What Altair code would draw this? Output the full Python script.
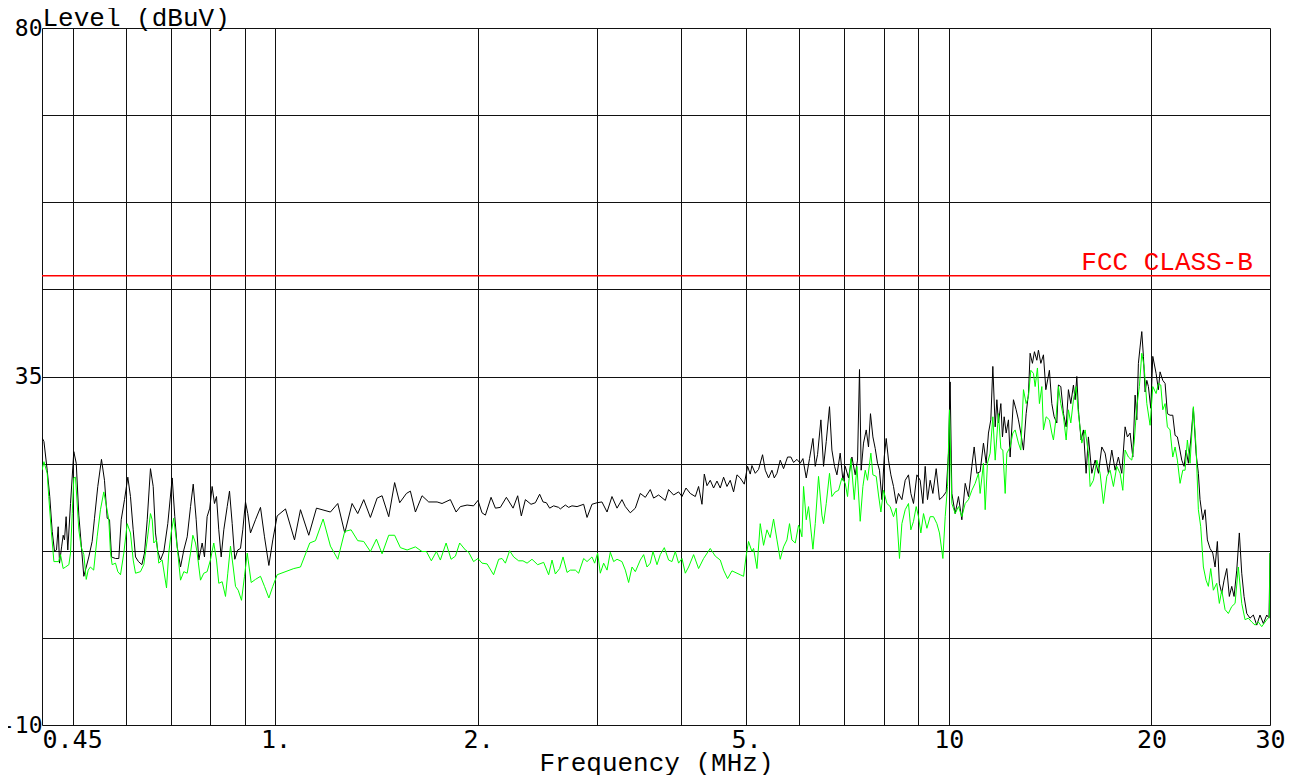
import altair as alt
import pandas as pd

# ---------------- data ----------------
peak_freq = [
    0.45, 0.453, 0.4581, 0.4621, 0.466, 0.4697, 0.4729, 0.4756, 0.4778, 0.4812,
    0.4838, 0.486, 0.4887, 0.4915, 0.4961, 0.5017, 0.5059, 0.5104, 0.5192, 0.5235,
    0.5281, 0.5342, 0.5385, 0.5446, 0.5515, 0.5572, 0.5624, 0.5669, 0.5708, 0.5786,
    0.5852, 0.59, 0.5967, 0.6035, 0.609, 0.6147, 0.6196, 0.6259, 0.6332, 0.6389,
    0.6449, 0.6521, 0.6582, 0.6634, 0.6687, 0.6748, 0.6826, 0.6919, 0.7024, 0.7087,
    0.7145, 0.7227, 0.7309, 0.7394, 0.7479, 0.7548, 0.7625, 0.7693, 0.7782, 0.7844,
    0.7915, 0.7987, 0.8052, 0.8117, 0.8173, 0.8237, 0.8305, 0.838, 0.8478, 0.8545,
    0.8624, 0.8701, 0.879, 0.8872, 0.8942, 0.9025, 0.9096, 0.9181, 0.9339, 0.95,
    0.9631, 0.9776, 0.9909, 1.0058, 1.0348, 1.0672, 1.0892, 1.1205, 1.1505, 1.2067,
    1.2374, 1.2673, 1.2995, 1.3249, 1.3523, 1.3835, 1.4157, 1.4398, 1.473, 1.503,
    1.5293, 1.5649, 1.5862, 1.6138, 1.6508, 1.6888, 1.738, 1.7676, 1.8187, 1.8547,
    1.8819, 1.9257, 1.9688, 1.9988, 2.0265, 2.0501, 2.0901, 2.1214, 2.1577, 2.2026,
    2.2536, 2.2894, 2.3181, 2.3505, 2.3963, 2.4322, 2.468, 2.497, 2.5254, 2.5538,
    2.5892, 2.6337, 2.6488, 2.6949, 2.7254, 2.7566, 2.8048, 2.8689, 2.9023, 2.9517,
    3.0032, 3.0543, 3.1077, 3.1606, 3.2157, 3.2704, 3.3084, 3.365, 3.4235, 3.482,
    3.5425, 3.6031, 3.6444, 3.7071, 3.7932, 3.8361, 3.9023, 3.9695, 4.0157, 4.0713,
    4.1311, 4.2028, 4.2503, 4.2999, 4.3342, 4.3742, 4.4234, 4.4741, 4.5263, 4.5772,
    4.6297, 4.6837, 4.7363, 4.7908, 4.8466, 4.9011, 4.9692, 5.0256, 5.0715, 5.1013,
    5.1596, 5.2179, 5.29, 5.3391, 5.3994, 5.4623, 5.5059, 5.5567, 5.6192, 5.6836,
    5.762, 5.8283, 5.8814, 5.95, 6.0169, 6.073, 6.1422, 6.2114, 6.2842, 6.3342,
    6.3842, 6.4577, 6.5165, 6.5768, 6.6509, 6.7059, 6.7662, 6.8218, 6.8985, 6.9629,
    7.0183, 7.0976, 7.1803, 7.2624, 7.3198, 7.3692, 7.4113, 7.4713, 7.5405, 7.5998,
    7.6509, 7.7149, 7.7763, 7.8377, 7.8906, 7.9558, 8.0193, 8.0741, 8.1376, 8.2036,
    8.2782, 8.3548, 8.4206, 8.5187, 8.6161, 8.7135, 8.7841, 8.864, 8.9674, 9.0682,
    9.1529, 9.2258, 9.2987, 9.3836, 9.4712, 9.5791, 9.6869, 9.8006, 9.9122, 9.9902,
    10.047, 10.106, 10.222, 10.338, 10.458, 10.578, 10.698, 10.821, 10.908, 11.008,
    11.132, 11.26, 11.365, 11.454, 11.547, 11.627, 11.72, 11.788, 11.852, 11.95,
    12.016, 12.087, 12.169, 12.265, 12.335, 12.476, 12.592, 12.691, 12.794, 12.911,
    13.03, 13.133, 13.208, 13.313, 13.405, 13.515, 13.589, 13.701, 13.824, 13.938,
    14.109, 14.225, 14.339, 14.471, 14.551, 14.67, 14.803, 14.94, 15.057, 15.18,
    15.317, 15.406, 15.495, 15.58, 15.724, 15.85, 15.996, 16.122, 16.311, 16.497,
    16.683, 16.877, 17.07, 17.263, 17.464, 17.664, 17.864, 18.071, 18.278, 18.422,
    18.591, 18.765, 18.914, 19.024, 19.128, 19.237, 19.351, 19.458, 19.572, 19.686,
    19.793, 19.954, 20.092, 20.321, 20.481, 20.598, 20.79, 20.956, 21.122, 21.314,
    21.514, 21.685, 21.856, 22.004, 22.185, 22.363, 22.515, 22.693, 22.877, 23.084,
    23.298, 23.481, 23.616, 23.837, 24.027, 24.217, 24.438, 24.666, 24.862, 25.058,
    25.228, 25.436, 25.64, 25.876, 26.105, 26.321, 26.531, 26.776, 27.013, 27.236,
    27.453, 27.707, 28.018, 28.34, 28.67, 28.992, 29.326, 29.668, 29.9, 30.0,
]
peak_level = [
    27.1, 26.6, 22.9, 19.5, 15.0, 12.4, 12.6, 15.6, 10.9, 13.0,
    14.5, 13.9, 16.9, 12.6, 18.6, 25.3, 23.8, 17.1, 9.2, 10.4,
    11.7, 13.7, 16.7, 20.8, 24.3, 21.6, 16.7, 16.5, 11.7, 11.5,
    11.5, 16.5, 19.1, 22.0, 19.5, 15.2, 11.7, 11.1, 10.7, 12.2,
    16.5, 23.1, 20.8, 14.8, 12.4, 11.3, 12.4, 16.0, 21.9, 16.9,
    13.0, 10.4, 12.6, 14.3, 18.2, 21.1, 16.5, 11.3, 13.5, 11.7,
    16.9, 18.0, 20.8, 18.6, 19.5, 15.2, 11.7, 15.2, 18.2, 20.2,
    16.0, 11.4, 12.6, 12.8, 15.2, 18.8, 17.3, 14.8, 16.5, 18.1,
    14.3, 10.6, 13.9, 17.0, 17.9, 13.9, 17.8, 14.5, 18.0, 17.5,
    18.6, 14.8, 18.6, 17.3, 19.1, 16.8, 19.3, 19.6, 16.9, 21.3,
    18.7, 19.9, 20.2, 17.5, 19.6, 18.8, 18.8, 18.6, 19.1, 17.5,
    18.2, 18.4, 18.3, 19.0, 17.4, 17.1, 19.4, 18.0, 18.1, 19.4,
    18.0, 19.6, 17.0, 19.1, 18.5, 18.7, 19.8, 18.8, 18.7, 18.0,
    18.3, 18.1, 17.9, 18.4, 18.1, 18.3, 18.2, 18.5, 16.8, 18.5,
    18.7, 18.8, 17.5, 19.5, 18.0, 19.1, 18.2, 17.4, 18.0, 19.9,
    19.4, 20.4, 19.3, 19.7, 19.0, 20.4, 19.7, 20.1, 19.5, 20.6,
    19.9, 19.5, 20.8, 18.5, 22.4, 20.9, 21.6, 20.6, 21.5, 20.6,
    22.0, 20.8, 21.6, 20.1, 22.3, 21.9, 21.1, 23.4, 22.4, 23.5,
    22.5, 23.0, 24.9, 22.9, 21.9, 22.9, 21.9, 22.5, 24.2, 23.1,
    24.6, 24.6, 23.9, 24.3, 23.8, 24.4, 21.9, 24.4, 27.0, 23.4,
    24.9, 29.4, 23.4, 26.6, 31.1, 25.5, 23.4, 22.3, 25.1, 21.6,
    23.4, 21.9, 24.6, 22.3, 24.2, 35.9, 22.9, 26.4, 28.1, 25.9,
    30.2, 27.2, 25.7, 23.8, 22.9, 19.1, 24.6, 27.0, 24.2, 22.3,
    20.8, 18.6, 19.9, 19.1, 21.6, 22.3, 19.9, 18.6, 22.3, 21.6,
    18.6, 23.4, 19.1, 21.6, 19.9, 23.1, 19.1, 19.5, 20.1, 25.1,
    34.3, 19.9, 17.3, 19.5, 16.5, 21.2, 19.5, 23.4, 25.9, 22.5,
    22.7, 26.4, 23.8, 27.7, 29.4, 36.3, 28.5, 32.0, 29.0, 31.5,
    27.2, 29.8, 27.7, 29.4, 24.6, 32.0, 30.7, 29.4, 27.7, 25.5,
    30.2, 32.8, 38.0, 36.7, 38.2, 37.1, 38.4, 36.7, 37.8, 33.3,
    35.8, 31.5, 29.8, 29.0, 33.9, 33.7, 30.2, 28.5, 33.3, 31.5,
    33.9, 32.0, 35.0, 30.7, 26.8, 28.1, 22.5, 27.2, 22.5, 24.2,
    22.5, 25.9, 25.1, 22.5, 25.5, 22.9, 24.6, 22.5, 28.5, 27.2,
    27.7, 24.6, 32.6, 29.4, 36.7, 38.8, 40.8, 37.6, 33.0, 34.5,
    33.7, 30.9, 37.6, 35.4, 33.3, 35.6, 34.5, 34.1, 30.2, 30.0,
    30.0, 27.4, 27.2, 25.9, 24.2, 23.4, 25.5, 23.8, 26.8, 30.9,
    25.1, 22.5, 19.1, 16.5, 17.8, 13.9, 12.8, 12.2, 10.4, 13.7,
    8.3, 7.0, 8.7, 10.2, 6.6, 7.9, 6.6, 10.0, 14.8, 9.6,
    6.6, 4.4, 3.8, 4.2, 2.9, 4.2, 3.1, 4.2, 3.8, 12.2,
]

avg_freq = [
    0.45, 0.453, 0.4581, 0.4605, 0.4644, 0.4687, 0.4765, 0.4794, 0.4838, 0.4877,
    0.4933, 0.4961, 0.499, 0.5017, 0.50465, 0.5104, 0.5145, 0.5192, 0.5235, 0.527,
    0.531, 0.537, 0.5434, 0.5496, 0.5559, 0.5611, 0.5655, 0.5688, 0.572, 0.5786,
    0.5832, 0.5886, 0.5953, 0.6022, 0.609, 0.6147, 0.6196, 0.6302, 0.6374, 0.6449,
    0.6521, 0.656, 0.6596, 0.6657, 0.6709, 0.6787, 0.6889, 0.6942, 0.6999, 0.706,
    0.7145, 0.7227, 0.7309, 0.7394, 0.7479, 0.7538, 0.7607, 0.765, 0.7738, 0.7826,
    0.7915, 0.8005, 0.8097, 0.8173, 0.8237, 0.8333, 0.8429, 0.8495, 0.8574, 0.8653,
    0.8722, 0.8803, 0.8903, 0.8995, 0.9079, 0.9203, 0.9339, 0.95, 0.9631, 0.9776,
    0.9909, 1.0058, 1.0646, 1.0892, 1.1243, 1.1465, 1.177, 1.2067, 1.2374, 1.2673,
    1.2951, 1.3249, 1.3523, 1.3835, 1.4123, 1.4398, 1.473, 1.503, 1.5329, 1.5686,
    1.6138, 1.6508, 1.6756, 1.7041, 1.7339, 1.7575, 1.7924, 1.8229, 1.8503, 1.8774,
    1.9146, 1.9362, 1.9688, 1.9988, 2.0265, 2.062, 2.1083, 2.1454, 2.1703, 2.1951,
    2.2274, 2.2583, 2.2972, 2.3312, 2.3641, 2.4043, 2.4514, 2.5022, 2.5452, 2.5749,
    2.6043, 2.6426, 2.6736, 2.7105, 2.741, 2.7886, 2.8201, 2.8689, 2.9023, 2.9517,
    2.9787, 3.0095, 3.037, 3.0719, 3.1077, 3.1426, 3.1787, 3.2157, 3.2704, 3.3084,
    3.3458, 3.3848, 3.4235, 3.482, 3.522, 3.563, 3.6031, 3.6367, 3.687, 3.7284,
    3.7803, 3.8361, 3.8807, 3.9251, 3.9695, 4.0157, 4.0616, 4.1075, 4.1784, 4.2503,
    4.3238, 4.4234, 4.5002, 4.5772, 4.6297, 4.6935, 4.7642, 4.8466, 4.9011, 4.9573,
    4.9982, 5.0425, 5.1013, 5.1297, 5.1895, 5.2478, 5.3081, 5.3701, 5.4304, 5.4927,
    5.5567, 5.6192, 5.6836, 5.75, 5.8008, 5.8477, 5.9157, 5.9826, 6.0169, 6.0522,
    6.0859, 6.1422, 6.1906, 6.2842, 6.3342, 6.4058, 6.4804, 6.5165, 6.5768, 6.6509,
    6.7059, 6.7825, 6.8591, 6.939, 7.0183, 7.0737, 7.1556, 7.2377, 7.3045, 7.3866,
    7.4555, 7.5149, 7.5743, 7.6614, 7.7149, 7.8027, 7.8642, 7.9284, 8.0, 8.0934,
    8.1843, 8.2782, 8.3548, 8.4489, 8.5187, 8.6161, 8.7135, 8.7841, 8.864, 8.946,
    9.0165, 9.0896, 9.1723, 9.2793, 9.3836, 9.4912, 9.602, 9.6869, 9.8006, 9.8786,
    9.9566, 10.024, 10.106, 10.222, 10.338, 10.458, 10.578, 10.698, 10.821, 10.945,
    11.069, 11.132, 11.26, 11.326, 11.415, 11.52, 11.627, 11.72, 11.852, 11.95,
    12.032, 12.128, 12.198, 12.335, 12.45, 12.549, 12.691, 12.794, 12.911, 13.03,
    13.133, 13.239, 13.359, 13.437, 13.543, 13.635, 13.748, 13.824, 13.952, 14.109,
    14.225, 14.305, 14.437, 14.551, 14.67, 14.803, 14.94, 15.057, 15.18, 15.317,
    15.458, 15.58, 15.762, 15.942, 16.122, 16.215, 16.401, 16.593, 16.779, 16.971,
    17.169, 17.362, 17.562, 17.766, 17.966, 18.134, 18.278, 18.485, 18.7, 18.85,
    19.024, 19.192, 19.351, 19.505, 19.686, 19.907, 20.092, 20.321, 20.481, 20.647,
    20.79, 20.956, 21.122, 21.314, 21.514, 21.685, 21.856, 22.056, 22.262, 22.439,
    22.616, 22.823, 23.084, 23.298, 23.481, 23.672, 23.888, 24.109, 24.298, 24.495,
    24.718, 25.006, 25.228, 25.436, 25.727, 26.018, 26.321, 26.622, 26.923, 27.236,
    27.547, 27.858, 28.183, 28.505, 28.827, 29.164, 29.668, 29.93, 30.0,
]
avg_level = [
    22.9, 24.0, 22.5, 19.5, 15.2, 11.1, 11.1, 12.0, 10.2, 10.4,
    10.7, 12.2, 17.3, 21.9, 22.0, 15.2, 13.0, 12.0, 8.8, 10.0,
    10.4, 10.0, 14.3, 17.8, 20.1, 18.2, 16.5, 12.2, 10.7, 10.9,
    9.8, 9.4, 12.2, 16.0, 14.8, 11.3, 9.6, 9.8, 10.7, 13.9,
    17.3, 16.5, 13.5, 13.9, 10.9, 11.3, 7.7, 12.2, 14.8, 16.7,
    13.0, 8.7, 9.8, 9.6, 12.2, 14.5, 13.5, 12.2, 8.7, 9.6,
    9.8, 11.3, 13.5, 11.3, 8.3, 8.5, 6.6, 9.6, 13.1, 10.4,
    7.9, 7.4, 6.1, 9.2, 12.2, 8.4, 8.8, 9.2, 7.9, 6.4,
    7.9, 9.4, 10.2, 10.4, 13.5, 13.8, 16.6, 13.1, 11.4, 15.0,
    15.2, 13.8, 13.7, 12.4, 14.0, 12.1, 14.5, 14.5, 12.9, 12.6,
    13.0, 12.4, 12.4, 11.2, 12.4, 11.3, 13.5, 11.4, 11.8, 13.5,
    12.6, 12.3, 11.1, 11.5, 10.9, 10.8, 9.4, 11.4, 11.5, 10.9,
    12.5, 11.7, 11.2, 11.2, 10.9, 11.4, 10.7, 11.0, 9.4, 11.3,
    9.5, 10.2, 11.7, 9.7, 10.0, 10.0, 9.6, 11.5, 11.1, 11.7,
    10.9, 12.2, 9.6, 10.9, 10.0, 12.3, 11.1, 11.4, 11.1, 10.0,
    8.4, 10.4, 9.8, 11.3, 12.0, 10.4, 10.9, 12.4, 10.7, 12.0,
    12.9, 11.3, 11.1, 12.4, 10.9, 11.5, 9.6, 10.4, 12.0, 10.2,
    11.5, 12.8, 11.8, 11.3, 10.0, 8.9, 9.9, 9.6, 9.4, 9.2,
    11.7, 13.7, 12.4, 12.8, 10.2, 16.0, 13.2, 15.2, 14.2, 16.6,
    13.9, 11.4, 13.0, 13.9, 16.0, 13.9, 13.5, 15.8, 15.2, 14.3,
    20.8, 16.5, 18.2, 12.7, 16.0, 22.1, 17.1, 16.0, 18.6, 22.5,
    19.5, 20.1, 20.3, 21.9, 21.2, 19.5, 24.4, 19.1, 23.4, 16.3,
    20.8, 22.9, 21.6, 25.1, 22.3, 22.1, 19.7, 17.5, 20.3, 18.6,
    18.2, 16.9, 18.0, 11.5, 16.0, 17.8, 18.6, 15.2, 16.3, 18.2,
    16.9, 14.8, 17.3, 15.4, 16.9, 16.9, 16.0, 14.8, 11.5, 16.9,
    20.8, 30.7, 18.6, 17.3, 18.2, 16.9, 18.6, 19.1, 20.3, 21.2,
    22.5, 19.9, 23.8, 17.8, 23.8, 25.1, 29.8, 24.2, 30.2, 25.7,
    25.5, 19.9, 25.1, 25.9, 27.7, 28.1, 26.4, 25.5, 33.3, 31.5,
    32.4, 35.8, 35.4, 33.7, 36.1, 31.5, 33.7, 28.1, 29.8, 29.4,
    27.7, 26.8, 29.8, 33.7, 31.5, 29.8, 26.8, 30.7, 29.0, 32.0,
    33.7, 30.2, 26.4, 28.1, 25.1, 20.8, 21.6, 24.2, 22.5, 18.6,
    22.1, 22.9, 20.8, 23.4, 22.5, 20.3, 25.5, 24.6, 24.2, 26.4,
    31.1, 33.7, 38.0, 36.3, 31.5, 28.7, 33.7, 32.8, 34.1, 33.9,
    30.7, 31.5, 28.5, 28.1, 24.6, 25.9, 24.2, 21.2, 22.9, 22.9,
    26.8, 23.8, 31.1, 25.9, 17.8, 15.6, 10.4, 8.7, 7.9, 10.2,
    7.4, 8.3, 5.7, 7.4, 4.9, 4.4, 5.3, 5.7, 10.4, 5.7,
    3.6, 3.8, 3.3, 2.9, 3.3, 2.7, 3.6, 4.0, 12.2,
]

limit_level = [48.0]
limit_name = ["FCC CLASS-B"]
limit_label_freq = [28.3]

x_domain = [0.45, 30]
y_domain = [-10, 80]
x_grid = [0.45, 0.5, 0.6, 0.7, 0.8, 0.9, 1, 2, 3, 4, 5, 6, 7, 8, 9, 10, 20, 30]
x_tick_labels = {0.45: "0.45", 1: "1.", 2: "2.", 5: "5.", 10: "10", 20: "20", 30: "30"}
y_grid = [-10, 1.25, 12.5, 23.75, 35, 46.25, 57.5, 68.75, 80]
y_tick_labels = {80: "80", 35: "35", -10: "-10"}

title_left = "Level (dBuV)"
title_right = "Compliance Certification Service"
x_title = "Frequency (MHz)"

# ---------------- chart ----------------
TITLE_FONT = "Liberation Mono"
LABEL_FONT = "DejaVu Sans Mono"

peak_df = pd.DataFrame({"freq": peak_freq, "level": peak_level})
avg_df = pd.DataFrame({"freq": avg_freq, "level": avg_level})
limit_df = pd.DataFrame({"level": limit_level})
label_df = pd.DataFrame({"freq": limit_label_freq, "level": limit_level, "name": limit_name})

x_expr = " : ".join(f"datum.value == {v} ? '{t}'" for v, t in x_tick_labels.items()) + " : ''"
y_expr = " : ".join(f"datum.value == {v} ? '{t}'" for v, t in y_tick_labels.items()) + " : ''"

x_axis = alt.Axis(
    values=x_grid, grid=True, gridColor="#111111", gridWidth=1, gridOpacity=1,
    domain=False, ticks=False, labelExpr=x_expr,
    labelAlign={"condition": {"test": "datum.value == 0.45", "value": "left"}, "value": "center"},
    labelBaseline="alphabetic", labelPadding=22, labelOverlap=False, labelFlush=False,
    labelFont=LABEL_FONT, labelFontSize=25, labelColor="black",
    title=x_title, titleFont=TITLE_FONT, titleFontSize=26, titleFontWeight="normal",
    titleColor="black", titleBaseline="alphabetic", titleY=45, titleAlign="center",
)
y_axis = alt.Axis(
    values=y_grid, grid=True, gridColor="#111111", gridWidth=1, gridOpacity=1,
    domain=False, ticks=False, labelExpr=y_expr,
    labelAlign="right", labelBaseline="middle", labelPadding=0,
    labelOverlap=False, labelFlush=False,
    labelFont=LABEL_FONT, labelFontSize=23, labelColor="black",
    title=title_left, titleFont=TITLE_FONT, titleFontSize=26, titleFontWeight="normal",
    titleColor="black", titleAngle=0, titleAlign="left", titleBaseline="alphabetic",
    titleX=0, titleY=-3,
)

X = alt.X("freq:Q", scale=alt.Scale(type="log", domain=x_domain, nice=False), axis=x_axis)
Y = alt.Y("level:Q", scale=alt.Scale(domain=y_domain, nice=False, zero=False), axis=y_axis)

peak = alt.Chart(peak_df).mark_line(color="black", strokeWidth=1, clip=True).encode(x=X, y=Y)
avg = alt.Chart(avg_df).mark_line(color="#00ff00", strokeWidth=1, clip=True).encode(x=X, y=Y)
limit = alt.Chart(limit_df).mark_rule(color="#ff0000", strokeWidth=1.5).encode(y=Y)
label = alt.Chart(label_df).mark_text(
    color="#ff0000", font=TITLE_FONT, fontSize=26, align="right", baseline="alphabetic", dy=-6
).encode(x=X, y=Y, text="name:N")

chart = (
    alt.layer(limit, peak, avg, label)
    .properties(
        width=1228,
        height=697,
        autosize=alt.AutoSizeParams(type="none"),
        padding={"left": 34, "top": 20, "right": 24, "bottom": 50},
        title=alt.TitleParams(
            text=title_right, anchor="end", frame="group", font=TITLE_FONT,
            fontSize=26, fontWeight="normal", color="black", offset=3, baseline="alphabetic",
        ),
    )
    .configure_view(stroke="black", strokeWidth=1)
    .configure(background="white")
)

chart.save("out.html", embed_options={"renderer": "svg", "actions": False})
